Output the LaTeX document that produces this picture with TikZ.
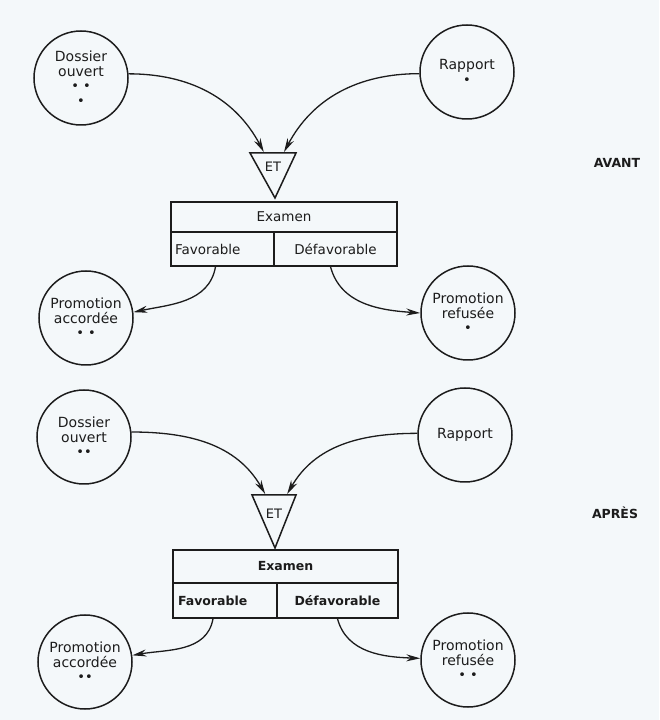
\documentclass[tikz,border=0pt]{standalone}
\usepackage{fontspec}
\setmainfont{DejaVu Sans}
\usetikzlibrary{arrows.meta,calc}
\definecolor{bg}{RGB}{244,248,250}
\definecolor{ink}{RGB}{28,28,28}
\tikzset{
 state/.style={circle, draw=ink, line width=1.5pt, minimum size=94pt, inner sep=0pt, align=center, font=\fontsize{14}{14.5}\selectfont, text=ink},
 cell/.style={rectangle, draw=ink, line width=1.5pt, inner sep=0pt, font=\fontsize{13.5}{15}\selectfont, text=ink},
 boldcell/.style={cell, font=\bfseries\fontsize{12.5}{15}\selectfont},
 gate/.style={draw=ink, line width=1.5pt, line join=miter},
 gatetext/.style={font=\fontsize{13}{14}\selectfont, text=ink},
 flow/.style={draw=ink, line width=1.3pt, -{Stealth[length=14pt,width=7pt]}},
 tag/.style={font=\bfseries\fontsize{12.5}{14}\selectfont, text=ink},
}
\newcommand{\dts}[1]{{\fontsize{13}{12}\selectfont #1}}
\begin{document}
\begin{tikzpicture}[x=1pt,y=1pt]
\path[fill=bg] (0,0) rectangle (659,720);
\useasboundingbox (0,0) rectangle (659,720);

% ---------- AVANT ----------
\node[state] (dos1) at (81,642) {Dossier\\ouvert\\\dts{•\ •}\\\dts{•}};
\node[state] (rap1) at (467,648) {Rapport\\\dts{•}};
\coordinate (t1l) at (250,567);
\coordinate (t1r) at (296,567);
\coordinate (t1a) at (275,522);
\draw[gate] (t1l) -- (t1r) -- (t1a) -- cycle;
\node[gatetext] (et1) at (273,553) {ET};
\node[cell, minimum width=226pt, minimum height=30pt] (ex1) at (284,503) {Examen};
\node[cell, minimum width=103pt, minimum height=34pt, inner xsep=4pt, text width=95pt, align=left] (fav1) at (222.5,471) {Favorable};
\node[cell, minimum width=123pt, minimum height=34pt] (def1) at (335.5,471) {Défavorable};
\node[state] (pa1) at (86,402) {Promotion\\accordée\\\dts{•\ •}};
\node[state] (pr1) at (468,407) {Promotion\\refusée\\\dts{•}};
\node[tag] (avant) at (617,557) {AVANT};

\coordinate (in1a) at ($(t1l)!0.3!(t1r)+(0,1)$);
\coordinate (in1b) at ($(t1l)!0.74!(t1r)+(0,1)$);
\draw[flow] (dos1.5) to[out=0,in=118] (in1a);
\draw[flow] (rap1.182) to[out=180,in=62] (in1b);
\draw[flow] ($(fav1.south)+(-7,0)$) to[out=-100,in=12] (pa1.7);
\draw[flow] ($(def1.south)+(-5,0)$) to[out=-75,in=176] (pr1.180);

% ---------- APRES ----------
\node[state] (dos2) at (84,283) {Dossier\\ouvert\\\dts{••}};
\node[state] (rap2) at (465,285) {Rapport};
\coordinate (t2l) at (252,225);
\coordinate (t2r) at (296,225);
\coordinate (t2a) at (275,172);
\draw[gate] (t2l) -- (t2r) -- (t2a) -- cycle;
\node[gatetext] (et2) at (274,206) {ET};
\node[boldcell, minimum width=225pt, minimum height=33pt] (ex2) at (285.5,153.5) {Examen};
\node[boldcell, minimum width=104pt, minimum height=35pt, inner xsep=5pt, text width=94pt, align=left] (fav2) at (225,119.5) {Favorable};
\node[boldcell, minimum width=121pt, minimum height=35pt] (def2) at (337.5,119.5) {Défavorable};
\node[state] (pa2) at (85,58) {Promotion\\accordée\\\dts{••}};
\node[state] (pr2) at (468,60) {Promotion\\refusée\\\dts{•\ •}};
\node[tag] (apres) at (615,207) {APRÈS};

\coordinate (in2a) at ($(t2l)!0.3!(t2r)+(0,1)$);
\coordinate (in2b) at ($(t2l)!0.8!(t2r)+(0,1)$);
\draw[flow] (dos2.6) to[out=0,in=120] (in2a);
\draw[flow] (rap2.178) to[out=180,in=60] (in2b);
\draw[flow] ($(fav2.south)+(-12,0)$) to[out=-100,in=10] (pa2.8);
\draw[flow] ($(def2.south)+(0,0)$) to[out=-75,in=178] (pr2.178);
\end{tikzpicture}
\end{document}
